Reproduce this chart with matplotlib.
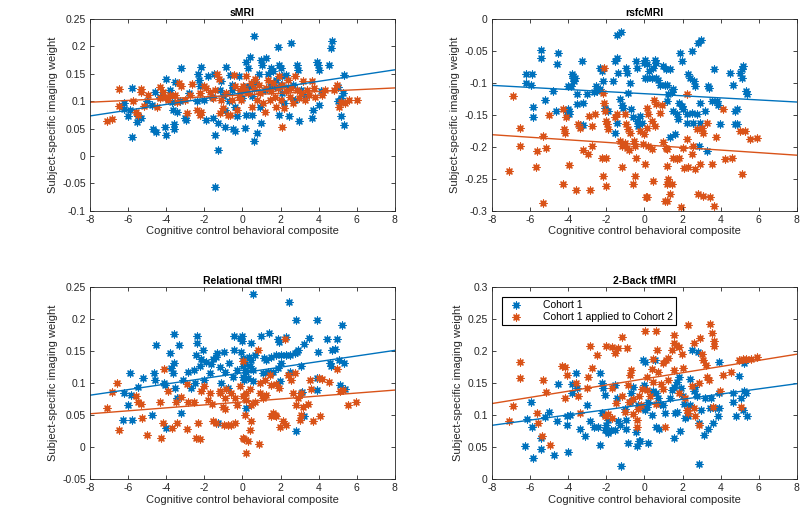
import numpy as np
import matplotlib
matplotlib.use("Agg")
import matplotlib.pyplot as plt
from matplotlib.ticker import FuncFormatter, MultipleLocator

plt.rcParams['font.family'] = ['Liberation Sans', 'DejaVu Sans']
plt.rcParams['axes.unicode_minus'] = False

BLUE = '#0072BD'
ORANGE = '#D95319'

# values, (x, y) per subject
smri_c1 = [
    (-5.8, 0.035), (-5.8, 0.124), (-6.2, 0.097), (-6.2, 0.085), (-6.0, 0.073), (-5.9, 0.083),
    (-5.5, 0.072), (-5.3, 0.069), (-5.55, 0.062), (-4.75, 0.093), (-4.6, 0.116), (-4.7, 0.05),
    (-4.55, 0.043), (-4.07, 0.053), (-4.03, 0.038), (-4.0, 0.14), (-3.8, 0.12), (-3.65, 0.084),
    (-3.7, 0.099), (-3.6, 0.058), (-3.6, 0.049), (-3.45, 0.081), (-3.55, 0.135), (-3.2, 0.16),
    (-3.3, 0.10), (-3.0, 0.069), (-2.95, 0.066), (-2.4, 0.10), (-2.35, 0.15), (-2.3, 0.139),
    (-2.25, 0.127), (-2.15, 0.162), (-2.0, 0.102), (-1.9, 0.065), (-1.8, 0.145), (-1.6, 0.108),
    (-1.55, 0.069), (-1.5, 0.15), (-1.45, 0.039), (-1.42, -0.057), (-1.3, 0.011), (-1.3, 0.06),
    (-1.1, 0.136), (-0.9, 0.084), (-0.9, 0.053), (-0.85, 0.163), (-0.65, 0.148), (-0.55, 0.13),
    (-0.55, 0.12), (-0.5, 0.049), (-0.4, 0.046), (-0.4, 0.09), (-0.3, 0.072), (-0.2, 0.145),
    (-0.15, 0.115), (0.15, 0.051), (0.2, 0.075), (0.2, 0.172), (0.3, 0.16), (0.35, 0.127),
    (0.4, 0.18), (0.5, 0.075), (0.6, 0.219), (0.6, 0.028), (0.65, 0.135), (0.75, 0.042),
    (0.85, 0.15), (0.9, 0.09), (1.0, 0.06), (1.0, 0.175), (1.05, 0.166), (1.25, 0.178),
    (1.35, 0.15), (1.45, 0.127), (1.5, 0.16), (1.6, 0.154), (1.75, 0.139), (1.85, 0.198),
    (1.9, 0.075), (1.9, 0.166), (2.05, 0.16), (2.1, 0.145), (2.1, 0.115), (2.2, 0.096),
    (2.3, 0.148), (2.45, 0.072), (2.55, 0.206), (2.65, 0.13), (2.75, 0.102), (2.85, 0.166),
    (2.9, 0.157), (2.95, 0.063), (3.1, 0.12), (3.65, 0.069), (3.7, 0.084), (3.9, 0.172),
    (3.95, 0.166), (4.0, 0.156), (4.0, 0.093), (4.15, 0.118), (4.7, 0.21), (4.65, 0.197),
    (4.55, 0.165), (5.0, 0.10), (5.15, 0.072), (5.35, 0.057), (5.2, 0.105), (5.3, 0.115),
    (5.35, 0.148), (5.0, 0.125), (-1.0, 0.11), (-0.7, 0.1), (0.0, 0.105), (0.5, 0.11),
    (1.2, 0.12), (1.7, 0.125), (2.4, 0.125), (-2.8, 0.115), (-1.2, 0.12), (0.1, 0.125),
    (2.0, 0.13), (3.3, 0.11), (-5.0, 0.1), (-4.3, 0.108),
]
smri_c2 = [
    (-7.13, 0.064), (-6.86, 0.068), (-6.5, 0.122), (-6.5, 0.092), (-5.73, 0.10), (-5.6, 0.081),
    (-5.5, 0.075), (-5.3, 0.122), (-5.3, 0.116), (-5.15, 0.092), (-4.95, 0.111), (-4.5, 0.09),
    (-4.35, 0.105), (-4.3, 0.125), (-4.15, 0.117), (-4.05, 0.108), (-3.9, 0.102), (-3.8, 0.112),
    (-3.55, 0.111), (-3.45, 0.099), (-3.35, 0.133), (-3.2, 0.127), (-3.0, 0.102), (-2.9, 0.078),
    (-2.75, 0.112), (-2.65, 0.131), (-2.4, 0.084), (-2.25, 0.075), (-2.25, 0.115), (-2.15, 0.081),
    (-2.0, 0.128), (-1.9, 0.124), (-1.7, 0.116), (-1.55, 0.105), (-1.45, 0.121), (-1.35, 0.15),
    (-1.25, 0.14), (-1.2, 0.078), (-1.1, 0.102), (-1.0, 0.087), (-0.85, 0.115), (-0.75, 0.075),
    (-0.65, 0.075), (-0.55, 0.102), (-0.45, 0.148), (-0.4, 0.127), (-0.3, 0.084), (-0.2, 0.108),
    (-0.1, 0.12), (-0.05, 0.102), (0.05, 0.127), (0.15, 0.121), (0.2, 0.145), (0.3, 0.115),
    (0.45, 0.133), (0.5, 0.09), (0.6, 0.122), (0.65, 0.141), (0.75, 0.102), (0.85, 0.13),
    (0.9, 0.115), (1.1, 0.096), (1.2, 0.081), (1.25, 0.124), (1.35, 0.138), (1.45, 0.102),
    (1.5, 0.118), (1.6, 0.133), (1.7, 0.108), (1.75, 0.09), (1.85, 0.124), (1.9, 0.145),
    (2.0, 0.102), (2.1, 0.052), (2.1, 0.13), (2.2, 0.087), (2.3, 0.118), (2.4, 0.139),
    (2.5, 0.108), (2.55, 0.124), (2.65, 0.096), (2.75, 0.145), (2.85, 0.121), (2.95, 0.105),
    (3.1, 0.115), (3.2, 0.136), (3.3, 0.102), (3.4, 0.121), (3.5, 0.111), (3.65, 0.136),
    (3.75, 0.124), (3.8, 0.108), (4.2, 0.111), (4.35, 0.121), (4.8, 0.121), (4.95, 0.13),
    (5.05, 0.09), (5.15, 0.099), (5.4, 0.096), (5.6, 0.102), (6.0, 0.102),
]
rsfc_c1 = [
    (-6.23, -0.1), (-5.92, -0.087), (-6.2, -0.087), (-5.97, -0.104), (-5.83, -0.138), (-5.87, -0.153),
    (-5.43, -0.048), (-5.45, -0.061), (-5.22, -0.127), (-4.64, -0.144), (-4.6, -0.07), (-4.52, -0.053),
    (-4.8, -0.113), (-4.05, -0.145), (-3.96, -0.148), (-3.96, -0.144), (-4.0, -0.141), (-3.82, -0.087),
    (-3.73, -0.09), (-3.65, -0.092), (-3.77, -0.093), (-3.68, -0.097), (-4.0, -0.105), (-3.87, -0.105),
    (-3.56, -0.118), (-3.3, -0.066), (-3.38, -0.166), (-3.2, -0.166), (-3.52, -0.133), (-3.2, -0.131),
    (-3.03, -0.117), (-2.65, -0.114), (-2.54, -0.105), (-2.47, -0.113), (-2.33, -0.11), (-2.33, -0.077),
    (-2.25, -0.082), (-2.16, -0.097), (-2.07, -0.139), (-1.93, -0.144), (-1.64, -0.097), (-1.55, -0.066),
    (-1.46, -0.062), (-1.46, -0.025), (-1.25, -0.02), (-1.38, -0.084), (-1.3, -0.126), (-1.2, -0.134),
    (-1.46, -0.162), (-1.55, -0.178), (-1.11, -0.14), (-0.94, -0.077), (-0.9, -0.084), (-0.85, -0.116),
    (-0.76, -0.1), (-0.68, -0.141), (-0.59, -0.154), (-0.45, -0.066), (-0.38, -0.077), (-0.41, -0.16),
    (-0.33, -0.167), (-0.24, -0.152), (-0.15, -0.162), (-0.03, -0.069), (0.02, -0.092),
    (0.03, -0.064), (0.12, -0.071), (0.26, -0.082), (0.47, -0.077), (0.16, -0.092), (0.38, -0.093),
    (0.61, -0.092), (0.73, -0.095), (0.56, -0.064), (0.61, -0.069), (1.0, -0.074), (1.14, -0.078),
    (1.35, -0.079), (0.82, -0.103), (1.08, -0.104), (1.2, -0.103), (1.43, -0.114), (1.52, -0.11),
    (1.87, -0.053), (2.48, -0.051), (1.96, -0.066), (2.31, -0.087), (2.4, -0.092), (2.6, -0.097),
    (2.66, -0.105), (2.83, -0.038), (2.95, -0.033), (1.84, -0.131), (1.96, -0.136), (2.05, -0.141),
    (2.22, -0.149), (2.48, -0.147), (2.74, -0.149), (2.57, -0.162), (2.22, -0.162), (2.92, -0.162),
    (2.92, -0.131), (3.18, -0.144), (1.52, -0.144), (1.7, -0.149), (1.78, -0.157), (1.35, -0.185),
    (1.61, -0.18), (2.88, -0.198), (3.27, -0.206), (3.36, -0.105), (3.41, -0.108), (3.65, -0.079),
    (3.53, -0.128), (3.79, -0.128), (3.88, -0.134), (3.97, -0.165), (4.49, -0.084), (4.67, -0.103),
    (4.75, -0.144), (4.84, -0.141), (4.75, -0.165), (4.88, -0.165), (5.02, -0.084), (5.1, -0.079),
    (5.19, -0.074), (5.1, -0.092), (5.33, -0.113), (5.37, -0.118), (1.2, -0.128), (1.26, -0.118),
]
rsfc_c2 = [
    (-6.88, -0.12), (-6.53, -0.17), (-6.53, -0.198), (-7.09, -0.237), (-5.66, -0.207), (-5.7, -0.231),
    (-5.34, -0.183), (-5.17, -0.202), (-5.3, -0.287), (-5.0, -0.15), (-4.26, -0.141), (-4.22, -0.172),
    (-4.17, -0.178), (-4.12, -0.154), (-3.94, -0.229), (-4.26, -0.258), (-3.59, -0.267), (-3.47, -0.165),
    (-3.38, -0.17), (-3.2, -0.205), (-2.95, -0.211), (-2.9, -0.152), (-2.86, -0.267), (-2.6, -0.148),
    (-2.77, -0.199), (-2.1, -0.077), (-2.16, -0.116), (-2.1, -0.131), (-2.05, -0.144), (-2.0, -0.16),
    (-1.98, -0.165), (-1.93, -0.172), (-2.16, -0.245), (-2.0, -0.261), (-2.0, -0.217), (-2.2, -0.218),
    (-1.29, -0.191), (-1.2, -0.198), (-1.55, -0.154), (-1.46, -0.149), (-1.02, -0.149), (-0.94, -0.165),
    (-0.85, -0.172), (-0.76, -0.178), (-1.02, -0.194), (-0.9, -0.201), (-0.8, -0.205), (-1.2, -0.232),
    (-0.55, -0.191), (-0.47, -0.198), (-0.42, -0.217), (-0.59, -0.258), (-0.5, -0.245), (-0.24, -0.176),
    (-0.03, -0.18), (0.07, -0.279), (-2.77, -0.167),
    (0.12, -0.139), (0.21, -0.149), (0.38, -0.16), (0.12, -0.17), (0.56, -0.167), (-0.05, -0.196),
    (0.21, -0.198), (0.38, -0.204), (0.03, -0.227), (0.47, -0.253), (0.12, -0.279), (0.52, -0.127),
    (0.61, -0.133), (0.82, -0.147), (0.9, -0.135), (1.0, -0.193), (1.14, -0.201), (1.2, -0.204),
    (1.17, -0.23), (1.26, -0.25), (1.17, -0.258), (1.43, -0.258), (1.35, -0.273), (1.17, -0.284),
    (1.08, -0.284), (1.9, -0.294), (1.52, -0.217), (1.7, -0.219), (1.84, -0.217), (2.05, -0.201),
    (2.22, -0.188), (2.48, -0.211), (2.53, -0.198), (2.09, -0.233), (2.31, -0.232), (2.66, -0.235),
    (2.83, -0.273), (3.06, -0.276), (3.44, -0.279), (3.65, -0.293), (2.92, -0.227), (3.53, -0.227),
    (3.76, -0.185), (2.22, -0.118), (2.74, -0.172), (3.0, -0.17), (3.27, -0.162), (3.1, -0.178),
    (4.23, -0.219), (4.58, -0.217), (5.02, -0.175), (5.28, -0.175), (5.1, -0.242), (5.54, -0.188),
    (5.93, -0.186), (4.1, -0.141),
]
rel_c1 = [
    (-6.27, 0.042), (-5.8, 0.042), (-6.22, 0.084), (-6.0, 0.066), (-5.92, 0.116), (-5.83, 0.082),
    (-5.48, 0.094), (-5.22, 0.108), (-4.73, 0.05), (-4.64, 0.116), (-4.6, 0.104), (-4.52, 0.16),
    (-4.12, 0.1), (-4.05, 0.097), (-4.03, 0.03), (-3.82, 0.147), (-3.73, 0.124), (-3.65, 0.116),
    (-3.6, 0.131), (-3.52, 0.092), (-3.42, 0.077), (-3.6, 0.177), (-3.35, 0.159), (-3.2, 0.054),
    (-2.86, 0.118), (-2.55, 0.121), (-2.5, 0.1), (-2.42, 0.144), (-2.37, 0.173), (-2.37, 0.162),
    (-2.16, 0.137), (-2.25, 0.126), (-2.07, 0.151), (-2.0, 0.105), (-1.93, 0.133), (-1.64, 0.129),
    (-1.55, 0.137), (-1.38, 0.141), (-1.33, 0.147), (-1.29, 0.037), (-1.11, 0.1), (-0.94, 0.149),
    (-0.9, 0.118), (-0.76, 0.092), (-0.68, 0.131), (-0.45, 0.173), (-0.45, 0.152), (-0.5, 0.11),
    (-0.15, 0.17), (-0.03, 0.165), (-0.06, 0.149), (0.02, 0.139), (0.02, 0.126), (0.1, 0.105),
    (0.15, 0.12), (0.56, 0.239), (2.45, 0.227), (2.8, 0.198), (3.92, 0.199), (5.24, 0.19),
    (0.0, 0.173), (0.47, 0.162), (1.0, 0.173), (1.4, 0.178), (1.87, 0.168), (2.31, 0.172),
    (1.92, 0.164), (3.5, 0.17), (4.44, 0.169), (4.97, 0.168), (3.23, 0.161), (3.97, 0.149),
    (4.72, 0.152), (4.84, 0.153), (2.87, 0.149), (0.35, 0.141), (0.47, 0.136), (0.65, 0.144),
    (1.12, 0.139), (1.26, 0.136), (1.52, 0.141), (1.78, 0.144), (2.05, 0.143), (2.31, 0.144),
    (2.48, 0.144), (2.74, 0.147), (2.92, 0.152), (0.12, 0.129), (0.38, 0.126), (0.56, 0.121),
    (0.21, 0.118), (0.03, 0.11), (0.3, 0.108), (0.56, 0.103), (1.08, 0.116), (1.35, 0.117),
    (1.6, 0.118), (1.87, 0.123), (2.05, 0.131), (2.48, 0.117), (3.09, 0.126), (4.58, 0.131),
    (4.67, 0.127), (5.07, 0.136), (5.31, 0.132), (1.96, 0.103), (5.1, 0.097), (5.37, 0.09),
    (3.92, 0.108), (3.92, 0.089), (3.15, 0.086), (3.23, 0.048), (2.8, 0.025), (0.17, 0.061),
    (-1.2, 0.125), (-0.3, 0.12), (-2.7, 0.092), (-3.1, 0.105), (-1.7, 0.115),
]
rel_c2 = [
    (-7.09, 0.061), (-6.86, 0.086), (-6.57, 0.1), (-6.5, 0.027), (-5.57, 0.079), (-5.5, 0.071),
    (-5.3, 0.067), (-5.27, 0.045), (-5.0, 0.019), (-4.3, 0.071), (-4.17, 0.037), (-4.12, 0.122),
    (-4.26, 0.014), (-3.91, 0.087), (-3.72, 0.03), (-3.45, 0.038), (-2.9, 0.099), (-2.86, 0.071),
    (-2.9, 0.028), (-3.47, 0.071), (-3.2, 0.078), (-2.55, 0.071), (-2.33, 0.037), (-2.42, 0.014),
    (-2.25, 0.012), (-2.16, 0.087), (-2.0, 0.095), (-1.81, 0.074), (-1.72, 0.084), (-1.6, 0.068),
    (-1.2, 0.084), (-1.15, 0.087), (-0.85, 0.09), (-0.9, 0.077), (-0.59, 0.084), (-1.02, 0.063),
    (-0.41, 0.077), (-0.27, 0.066), (-0.15, 0.095), (0.02, 0.134), (-0.41, 0.037), (0.02, 0.014),
    (0.2, -0.009), (-1.55, 0.04), (-1.37, 0.037), (-0.94, 0.035), (-0.76, 0.035), (-0.6, 0.034),
    (0.03, 0.079), (0.21, 0.084), (0.38, 0.09), (0.21, 0.074), (0.47, 0.066), (0.65, 0.071),
    (0.91, 0.084), (1.08, 0.077), (1.26, 0.082), (0.12, 0.05), (0.47, 0.04), (0.1, 0.013),
    (0.3, 0.009), (0.85, 0.005), (0.38, 0.027), (0.91, 0.1), (1.17, 0.105), (1.43, 0.113),
    (1.52, 0.097), (1.78, 0.099), (1.92, 0.092), (1.61, 0.053), (1.7, 0.05), (1.78, 0.048),
    (1.52, 0.048), (2.13, 0.04), (2.31, 0.035), (1.96, 0.032), (2.22, 0.168), (2.4, 0.113),
    (2.74, 0.116), (2.57, 0.105), (2.66, 0.084), (2.92, 0.077), (3.09, 0.084), (2.83, 0.066),
    (3.18, 0.063), (3.44, 0.068), (3.09, 0.05), (3.0, 0.043), (3.71, 0.04), (4.09, 0.048),
    (3.53, 0.105), (3.62, 0.091), (4.02, 0.108), (4.2, 0.107), (4.55, 0.102), (4.97, 0.122),
    (5.1, 0.087), (5.28, 0.089), (5.54, 0.066), (5.94, 0.071), (0.8, 0.152), (-0.9, 0.06),
]
nback_c1 = [
    (-6.27, 0.051), (-5.83, 0.033), (-5.97, 0.12), (-6.18, 0.094), (-5.88, 0.081), (-5.43, 0.064),
    (-5.45, 0.047), (-5.22, 0.097), (-4.73, 0.038), (-4.6, 0.091), (-4.52, 0.149), (-4.0, 0.043),
    (-4.05, 0.085), (-4.08, 0.099), (-3.91, 0.1), (-3.82, 0.149), (-3.82, 0.134), (-3.6, 0.166),
    (-3.52, 0.142), (-3.38, 0.079), (-3.12, 0.067), (-2.86, 0.09), (-2.65, 0.082), (-2.42, 0.082),
    (-2.33, 0.054), (-2.33, 0.166), (-2.25, 0.15), (-2.16, 0.142), (-2.07, 0.132), (-2.2, 0.103),
    (-2.0, 0.085), (-2.07, 0.077), (-1.9, 0.093), (-1.9, 0.072), (-1.76, 0.077), (-1.55, 0.147),
    (-1.46, 0.127), (-1.25, 0.021), (-1.55, 0.077), (-1.37, 0.09), (-1.29, 0.085), (-0.94, 0.093),
    (-0.94, 0.078), (-0.85, 0.056), (-0.76, 0.121), (-0.68, 0.134), (-0.59, 0.144), (-0.45, 0.074),
    (-0.41, 0.052), (-0.27, 0.059), (-0.33, 0.116), (-0.15, 0.113), (-0.03, 0.147), (-0.06, 0.186),
    (0.02, 0.108), (0.12, 0.113), (0.21, 0.121), (0.21, 0.057), (-0.23, 0.06), (0.04, 0.183),
    (0.56, 0.186), (0.44, 0.137), (0.61, 0.134), (0.74, 0.126), (0.82, 0.117), (1.0, 0.116),
    (0.61, 0.082), (0.79, 0.079), (1.09, 0.103), (1.35, 0.126), (1.44, 0.139), (1.56, 0.144),
    (1.7, 0.152), (1.84, 0.16), (1.93, 0.142), (2.01, 0.129), (2.1, 0.118), (1.61, 0.103),
    (1.7, 0.105), (1.87, 0.075), (1.56, 0.064), (2.14, 0.095), (2.31, 0.098), (2.4, 0.116),
    (2.49, 0.201), (2.8, 0.198), (2.58, 0.137), (2.67, 0.144), (2.75, 0.129), (2.84, 0.024),
    (2.88, 0.087), (2.98, 0.108), (3.16, 0.126), (3.12, 0.069), (3.33, 0.079), (3.42, 0.111),
    (3.5, 0.126), (3.59, 0.087), (3.68, 0.111), (3.85, 0.098), (3.94, 0.111), (3.9, 0.183),
    (3.94, 0.134), (4.63, 0.134), (4.63, 0.121), (4.8, 0.098), (4.98, 0.161), (5.06, 0.126),
    (5.15, 0.108), (5.24, 0.137), (5.24, 0.181), (5.41, 0.098), (5.32, 0.134), (2.4, 0.157),
    (-3.0, 0.115), (-1.0, 0.11), (0.4, 0.1), (-5.0, 0.105),
]
nback_c2 = [
    (-7.09, 0.09), (-6.88, 0.114), (-6.53, 0.158), (-6.53, 0.183), (-5.66, 0.103), (-5.57, 0.088),
    (-5.4, 0.068), (-5.3, 0.155), (-5.17, 0.136), (-4.95, 0.054), (-4.3, 0.176), (-4.17, 0.175),
    (-4.08, 0.163), (-4.17, 0.126), (-3.6, 0.15), (-3.47, 0.13), (-3.38, 0.103), (-3.03, 0.142),
    (-2.95, 0.159), (-2.85, 0.208), (-2.77, 0.174), (-2.5, 0.193), (-2.02, 0.208), (-1.72, 0.206),
    (-1.55, 0.197), (-1.37, 0.205), (-2.07, 0.098), (-1.9, 0.101), (-1.72, 0.142), (-1.72, 0.095),
    (-1.19, 0.222), (-0.93, 0.204), (-0.85, 0.147), (-0.76, 0.163), (-0.68, 0.171), (-0.59, 0.101),
    (-0.41, 0.093), (-0.33, 0.109), (-0.41, 0.082), (0.04, 0.232), (0.61, 0.232), (-0.8, 0.12),
    (-0.6, 0.125), (-0.3, 0.13), (-0.1, 0.14), (-0.2, 0.115), (-1.2, 0.13), (-1.5, 0.119),
    (-1.0, 0.105), (0.47, 0.188), (0.65, 0.201), (0.74, 0.253), (0.12, 0.16), (0.12, 0.139),
    (0.3, 0.129), (0.39, 0.172), (0.47, 0.152), (0.74, 0.168), (0.86, 0.149), (1.0, 0.181),
    (1.14, 0.186), (1.26, 0.189), (1.44, 0.201), (1.53, 0.225), (1.58, 0.212), (1.67, 0.209),
    (1.84, 0.207), (1.96, 0.196), (2.01, 0.173), (1.26, 0.155), (1.56, 0.17), (2.14, 0.126),
    (2.23, 0.108), (2.31, 0.103), (2.58, 0.111), (2.67, 0.098), (2.27, 0.24), (2.58, 0.212),
    (2.84, 0.15), (2.93, 0.22), (3.02, 0.196), (3.07, 0.186), (3.24, 0.178), (3.28, 0.16),
    (3.37, 0.155), (3.42, 0.242), (3.54, 0.228), (3.63, 0.216), (3.66, 0.208), (2.84, 0.085),
    (3.58, 0.113), (1.1, 0.082), (4.1, 0.162), (3.98, 0.137), (4.55, 0.168), (4.98, 0.186),
    (5.06, 0.113), (5.15, 0.187), (5.32, 0.187), (5.58, 0.188), (5.93, 0.19), (1.0, 0.14),
    (1.8, 0.135), (2.5, 0.145), (0.6, 0.118),
]

# least-squares line values at x = -8 and x = 8
fit_x = [-8, 8]
smri_fit = ([0.073, 0.157], [0.098, 0.124])
rsfc_fit = ([-0.104, -0.13], [-0.181, -0.213])
rel_fit = ([0.081, 0.151], [0.052, 0.089])
nback_fit = ([0.084, 0.149], [0.118, 0.195])

titles = ['sMRI', 'rsfcMRI', 'Relational tfMRI', '2-Back tfMRI']
ylims = [(-0.1, 0.25), (-0.3, 0.0), (-0.05, 0.25), (0.0, 0.3)]
legend_labels = ['Cohort 1', 'Cohort 1 applied to Cohort 2']

panels = [
    (smri_c1, smri_c2, smri_fit),
    (rsfc_c1, rsfc_c2, rsfc_fit),
    (rel_c1, rel_c2, rel_fit),
    (nback_c1, nback_c2, nback_fit),
]

positions = [
    [0.1125, 0.584, 0.381, 0.379],
    [0.615, 0.584, 0.381, 0.379],
    [0.1125, 0.055, 0.381, 0.379],
    [0.615, 0.055, 0.381, 0.379],
]

fig = plt.figure(figsize=(8, 5.07), dpi=100)
marker = (8, 2, 0)
txt = '#262626'

for i, (c1, c2, fits) in enumerate(panels):
    ax = fig.add_axes(positions[i])
    x1, y1 = zip(*c1)
    x2, y2 = zip(*c2)
    ax.scatter(x1, y1, marker=marker, s=25, color=BLUE, linewidths=0.9, label=legend_labels[0])
    ax.scatter(x2, y2, marker=marker, s=25, color=ORANGE, linewidths=0.9, label=legend_labels[1])
    ax.plot(fit_x, fits[0], color=BLUE, lw=1.0)
    ax.plot(fit_x, fits[1], color=ORANGE, lw=1.0)

    ax.set_xlim(-8, 8)
    ax.set_ylim(*ylims[i])
    ax.xaxis.set_major_locator(MultipleLocator(2))
    ax.yaxis.set_major_locator(MultipleLocator(0.05))
    ax.yaxis.set_major_formatter(FuncFormatter(lambda v, p: '%g' % round(v, 3)))
    ax.tick_params(direction='in', top=True, right=True, length=3, width=0.6,
                   labelsize=7.5, colors=txt, pad=3)
    for sp in ax.spines.values():
        sp.set_linewidth(0.6)
        sp.set_color(txt)

    ax.set_title(titles[i], fontsize=7.5, fontweight='bold', pad=2, color='black')
    ax.set_xlabel('Cognitive control behavioral composite', fontsize=8, color=txt, labelpad=1)
    ax.set_ylabel('Subject-specific imaging weight', fontsize=8, color=txt, labelpad=3)

    if i == 3:
        leg = ax.legend(loc='upper left', bbox_to_anchor=(0.033, 0.948), fontsize=7.5,
                        frameon=True, fancybox=False, framealpha=1, edgecolor='black',
                        borderpad=0.3, handletextpad=1.6, labelspacing=0.2,
                        borderaxespad=0)
        leg.get_frame().set_linewidth(0.8)

fig.savefig('out.png', dpi=100)
